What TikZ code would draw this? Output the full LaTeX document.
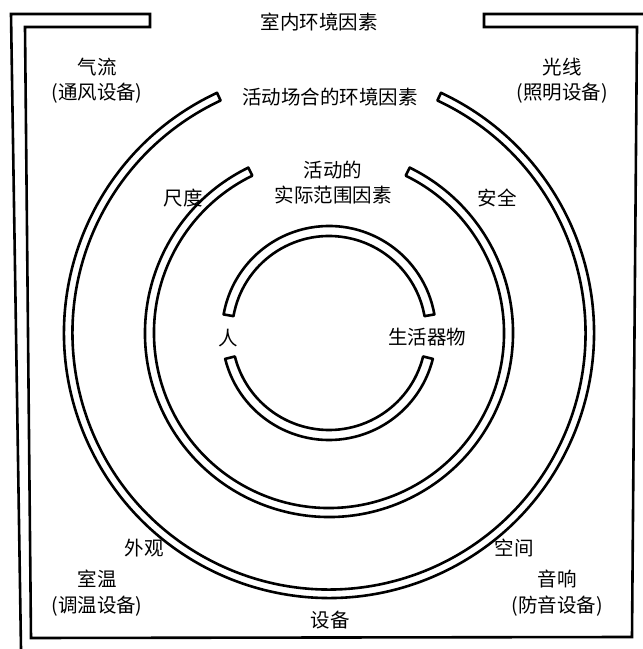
\documentclass[tikz,border=0pt]{standalone}
\usepackage{fontspec}
\newfontfamily\cjk{Noto Sans CJK SC}
\begin{document}
\begin{tikzpicture}[x=1pt,y=1pt,
  bandline/.style={line width=2.6pt,line join=round},
  framel/.style={line width=2.6pt,line join=miter},
  lbl/.style={font=\cjk\fontsize{19.5}{25.5}\selectfont,inner sep=0pt,align=center}]
\useasboundingbox (0,0) rectangle (643,649);
\coordinate (c) at (329,316);
% frame
\draw[framel] (21,0) -- (11,635) -- (150,635) -- (150,622) -- (25,622) -- (31,11)
   -- (632,12) -- (637,622) -- (484,622) -- (484,635) -- (643,635);
% small circle: two bands
\draw[bandline] (c) ++(10:107) arc[start angle=10,end angle=170,radius=107]
   -- ++(170:-10) arc[start angle=170,end angle=10,radius=97] -- cycle;
\draw[bandline] (c) ++(194:107) arc[start angle=194,end angle=346,radius=107]
   -- ++(346:-10) arc[start angle=346,end angle=194,radius=97] -- cycle;
% middle ring
\draw[bandline] (c) ++(116:184) arc[start angle=116,end angle=424,radius=184]
   -- ++(424:-9) arc[start angle=424,end angle=116,radius=175] -- cycle;
% outer ring
\draw[bandline] (c) ++(115:265) arc[start angle=115,end angle=425,radius=265]
   -- ++(425:-8.5) arc[start angle=425,end angle=115,radius=256.5] -- cycle;
% labels
\node[lbl] (title) at (319,627) {室内环境因素};
\node[lbl] (qiliu) at (97,568.5) {气流\\(通风设备)};
\node[lbl] (guangxian) at (562,568.5) {光线\\(照明设备)};
\node[lbl] (changhe) at (330,552) {活动场合的环境因素};
\node[lbl] (fanwei) at (333,466.5) {活动的\\实际范围因素};
\node[lbl] (chidu) at (183,451) {尺度};
\node[lbl] (anquan) at (497,451) {安全};
\node[lbl] (ren) at (228,311) {人};
\node[lbl] (qiwu) at (427,312) {生活器物};
\node[lbl] (waiguan) at (144,101) {外观};
\node[lbl] (kongjian) at (514,101) {空间};
\node[lbl] (shiwen) at (97,56) {室温\\(调温设备)};
\node[lbl] (yinxiang) at (557,56) {音响\\(防音设备)};
\node[lbl] (shebei) at (330,29) {设备};
\end{tikzpicture}
\end{document}
